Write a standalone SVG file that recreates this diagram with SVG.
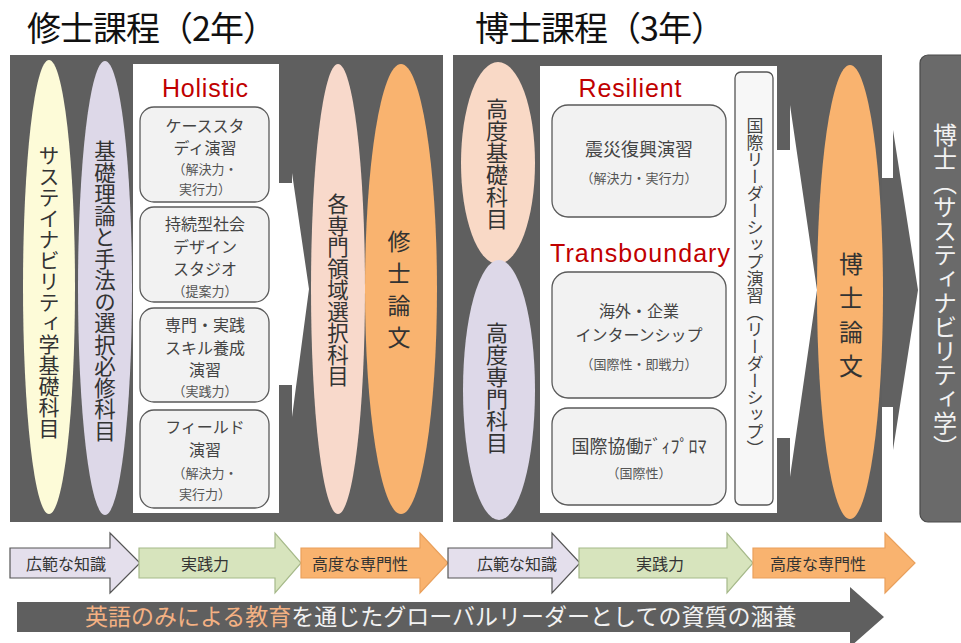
<svg xmlns="http://www.w3.org/2000/svg" width="961" height="643" viewBox="0 0 961 643">
<style>
.jp{font-family:"Noto Sans CJK JP","Noto Sans",sans-serif;}
.vt{writing-mode:vertical-rl;text-anchor:middle;}
.c{text-anchor:middle;dominant-baseline:central;}
.panel{fill:#5f5f5f;}
.wbox{fill:#ffffff;}
.box{fill:#f2f2f2;stroke:#5a5a5a;stroke-width:1.3;}
.bt{font-size:16px;fill:#444;}
.st{font-size:13px;fill:#555;}
.red{font-family:"Liberation Sans",Arial,sans-serif;fill:#c00000;font-size:25px;text-anchor:middle;}
.vl{fill:#333;}
.arr{stroke-width:1.2;}
.at{font-size:16px;fill:#333;}
</style>
<rect width="961" height="643" fill="#ffffff"/>

<g id="title-master"><text class="jp" x="27" y="41" font-size="34" fill="#111" textLength="250" lengthAdjust="spacing">修士課程（2年）</text></g>
<g id="title-doctor"><text class="jp" x="475" y="41" font-size="34" fill="#111" textLength="250" lengthAdjust="spacing">博士課程（3年）</text></g>

<g id="panel-master"><rect class="panel" x="10" y="55" width="433" height="467"/></g>
<g id="panel-doctor"><rect class="panel" x="453" y="55" width="429" height="467"/></g>

<g id="holistic-area"><rect class="wbox" x="133" y="64" width="146" height="449"/></g>
<g id="resilient-area"><rect class="wbox" x="540" y="66" width="237" height="447"/></g>

<g id="connectors">
  <polygon fill="#ffffff" points="270,183 292,183 292,173 309,289 292,417 292,385 270,385"/>
  <polygon fill="#ffffff" points="770,150 790,150 790,105 817,290 790,477 790,438 770,438"/>
  <polygon fill="#616161" points="882,178 893,178 893,130 918,290 893,450 893,407 882,407"/>
</g>

<g id="node-sustainability-basic">
  <ellipse cx="49" cy="287" rx="26" ry="227" fill="#fdfbd8"/>
  <text class="jp vt vl" x="49" y="292" font-size="21">サステイナビリティ学基礎科目</text>
</g>
<g id="node-basic-theory">
  <ellipse cx="105" cy="288" rx="27" ry="227" fill="#ddd8e8"/>
  <text class="jp vt vl" x="105" y="291" font-size="21.5">基礎理論と手法の選択必修科目</text>
</g>

<text class="red" x="205" y="97" textLength="86" lengthAdjust="spacing">Holistic</text>

<g id="node-case-study">
  <rect class="box" x="140" y="107" width="129" height="95" rx="14"/>
  <text class="jp c bt" x="205" y="125">ケーススタ</text>
  <text class="jp c bt" x="205" y="147">ディ演習</text>
  <text class="jp c st" x="205" y="168">（解決力・</text>
  <text class="jp c st" x="205" y="188">実行力）</text>
</g>
<g id="node-design-studio">
  <rect class="box" x="140" y="207" width="129" height="95" rx="14"/>
  <text class="jp c bt" x="205" y="223">持続型社会</text>
  <text class="jp c bt" x="205" y="246">デザイン</text>
  <text class="jp c bt" x="205" y="268">スタジオ</text>
  <text class="jp c st" x="205" y="290">（提案力）</text>
</g>
<g id="node-skill">
  <rect class="box" x="140" y="308" width="129" height="94" rx="14"/>
  <text class="jp c bt" x="205" y="324">専門・実践</text>
  <text class="jp c bt" x="205" y="347">スキル養成</text>
  <text class="jp c bt" x="205" y="369">演習</text>
  <text class="jp c st" x="205" y="390">（実践力）</text>
</g>
<g id="node-field">
  <rect class="box" x="140" y="410" width="129" height="98" rx="14"/>
  <text class="jp c bt" x="205" y="426">フィールド</text>
  <text class="jp c bt" x="205" y="449">演習</text>
  <text class="jp c st" x="205" y="472">（解決力・</text>
  <text class="jp c st" x="205" y="493">実行力）</text>
</g>

<g id="node-specialty-elective">
  <ellipse cx="338" cy="289" rx="27" ry="225" fill="#f8d9cb"/>
  <text class="jp vt vl" x="338" y="290" font-size="21.5">各専門領域選択科目</text>
</g>
<g id="node-master-thesis">
  <ellipse cx="401" cy="289" rx="36" ry="225" fill="#f9b36f"/>
  <text class="jp vt" x="399" y="294" font-size="23" letter-spacing="9" fill="#333">修士論文</text>
</g>

<g id="node-adv-basic">
  <ellipse cx="498" cy="163" rx="37" ry="101" fill="#f9d9c6"/>
  <text class="jp vt vl" x="497" y="164" font-size="22">高度基礎科目</text>
</g>
<g id="node-adv-special">
  <ellipse cx="499" cy="390" rx="36" ry="130" fill="#ddd8e8"/>
  <text class="jp vt vl" x="497" y="388" font-size="22">高度専門科目</text>
</g>

<text class="red" x="630" y="97" textLength="103" lengthAdjust="spacing">Resilient</text>
<text class="red" x="640" y="262" font-size="26" textLength="180" lengthAdjust="spacing">Transboundary</text>

<g id="node-disaster">
  <rect class="box" x="552" y="105" width="174" height="112" rx="16"/>
  <text class="jp c" x="639" y="148" font-size="18" fill="#444">震災復興演習</text>
  <text class="jp c st" x="639" y="177">（解決力・実行力）</text>
</g>
<g id="node-internship">
  <rect class="box" x="552" y="272" width="174" height="126" rx="16"/>
  <text class="jp c bt" x="639" y="310">海外・企業</text>
  <text class="jp c bt" x="639" y="334">インターンシップ</text>
  <text class="jp c st" x="639" y="363">（国際性・即戦力）</text>
</g>
<g id="node-diploma">
  <rect class="box" x="552" y="408" width="174" height="97" rx="16"/>
  <text class="jp c" x="639" y="445" font-size="18" fill="#444">国際協働ﾃﾞｨﾌﾟﾛﾏ</text>
  <text class="jp c st" x="639" y="472">（国際性）</text>
</g>

<g id="node-leadership">
  <rect x="735" y="72" width="38" height="433" rx="6" fill="#f7f7f7" stroke="#555" stroke-width="1.3"/>
  <text class="jp vt" x="755" y="287" font-size="17" fill="#444">国際リーダーシップ演習（リーダーシップ）</text>
</g>

<g id="node-doctor-thesis">
  <ellipse cx="850" cy="292" rx="33" ry="227" fill="#f9b36f"/>
  <text class="jp vt" x="851" y="320" font-size="24" letter-spacing="10" fill="#333">博士論文</text>
</g>

<g id="node-phd">
  <rect x="920" y="55" width="50" height="467" rx="8" fill="#6a6a6a" stroke="#4a4a4a" stroke-width="1.2"/>
  <text class="jp vt" x="945" y="291" font-size="24" fill="#f2f2f2">博士（サスティナビリティ学）</text>
</g>

<g id="node-arrow-knowledge-1">
  <polygon class="arr" fill="#e4dfec" stroke="#555" points="10,548 110,548 110,533 140,563 110,593 110,578 10,578"/>
  <text class="jp c at" x="66" y="563">広範な知識</text>
</g>
<g id="node-arrow-practice-1">
  <polygon class="arr" fill="#d7e4bd" stroke="#a6b98a" points="139,548 275,548 275,533 301,563 275,593 275,578 139,578"/>
  <text class="jp c at" x="205" y="563">実践力</text>
</g>
<g id="node-arrow-expert-1">
  <polygon class="arr" fill="#f9b36f" stroke="#e9a05c" points="301,548 420,548 420,533 448,563 420,593 420,578 301,578"/>
  <text class="jp c at" x="360" y="563">高度な専門性</text>
</g>
<g id="node-arrow-knowledge-2">
  <polygon class="arr" fill="#e4dfec" stroke="#555" points="448,548 552,548 552,533 580,563 552,593 552,578 448,578"/>
  <text class="jp c at" x="517" y="563">広範な知識</text>
</g>
<g id="node-arrow-practice-2">
  <polygon class="arr" fill="#d7e4bd" stroke="#a6b98a" points="579,548 727,548 727,533 753,563 727,593 727,578 579,578"/>
  <text class="jp c at" x="660" y="563">実践力</text>
</g>
<g id="node-arrow-expert-2">
  <polygon class="arr" fill="#f9b36f" stroke="#e9a05c" points="753,548 885,548 885,533 915,563 885,593 885,578 753,578"/>
  <text class="jp c at" x="818" y="563">高度な専門性</text>
</g>

<g id="node-english-bar">
  <polygon fill="#5f5f5f" points="17,602 850,602 850,587 884,617 850,647 850,632 17,632"/>
  <text class="jp" x="85" y="625" font-size="23" fill="#f2f2f2"><tspan fill="#f4b183">英語のみによる教育</tspan>を通じたグローバルリーダーとしての資質の涵養</text>
</g>
</svg>
